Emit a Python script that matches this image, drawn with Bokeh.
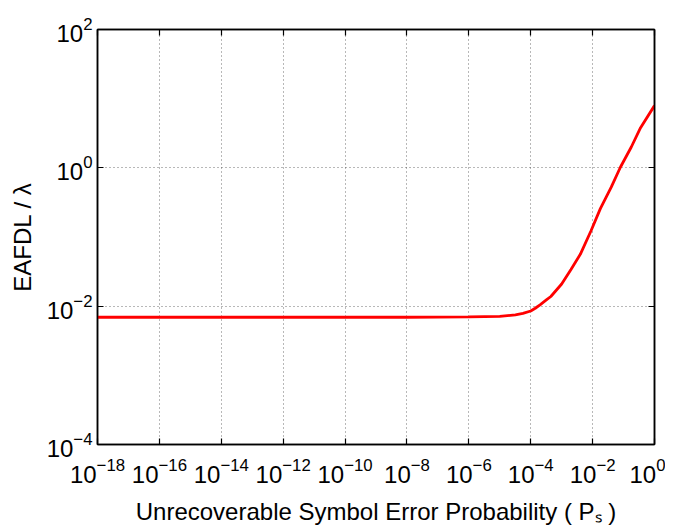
from bokeh.plotting import figure
from bokeh.models import FixedTicker, LogAxis, CustomJSTickFormatter
from bokeh.embed import file_html
from bokeh.resources import INLINE

# ---- data ----
ps = [1e-18, 1e-16, 1e-14, 1e-12, 1e-10, 1e-8, 1e-6, 1e-5, 3.2e-5, 5.6e-5, 1e-4, 1.4e-4,
      2e-4, 3.2e-4, 4.47e-4, 1e-3, 2e-3, 4e-3, 8.9e-3, 1.78e-2, 4e-2, 7.9e-2, 0.178, 0.355, 1.0]
eafdl = [0.00692, 0.00692, 0.00692, 0.00692, 0.00692, 0.00692, 0.00698, 0.00712, 0.00750, 0.00785,
         0.00851, 0.00933, 0.01047, 0.0123, 0.0138, 0.0209, 0.0339, 0.0562, 0.123, 0.257, 0.525,
         1.02, 2.0, 3.8, 7.94]

x_ticks = [1e-18, 1e-16, 1e-14, 1e-12, 1e-10, 1e-8, 1e-6, 1e-4, 1e-2, 1.0]
y_ticks = [1e-4, 1e-2, 1.0, 1e2]

x_label = "Unrecoverable Symbol Error Probability ( P\u209b )"
y_label = "EAFDL / \u03bb"

FONT = "Liberation Sans"

p = figure(width=665, height=527, x_axis_type="log", y_axis_type="log",
           x_range=(1e-18, 1.0), y_range=(1e-4, 1e2),
           output_backend="svg", toolbar_location=None,
           min_border_left=97, min_border_right=11, min_border_top=29, min_border_bottom=82)
p.background_fill_color = "white"
p.border_fill_color = "white"
p.outline_line_color = "black"
p.outline_line_width = 1.5

xt = FixedTicker(ticks=x_ticks, minor_ticks=[])
yt = FixedTicker(ticks=y_ticks, minor_ticks=[])

def style_axis(ax, ticker):
    ax.ticker = ticker
    ax.major_tick_in = 6
    ax.major_tick_out = 0
    ax.minor_tick_in = 0
    ax.minor_tick_out = 0
    ax.axis_line_color = "black"
    ax.axis_line_width = 1.5
    ax.major_tick_line_color = "black"
    ax.major_tick_line_width = 1.2
    ax.major_label_text_font = FONT
    ax.major_label_text_font_size = "24px"
    ax.major_label_text_color = "black"
    ax.axis_label_text_font = FONT
    ax.axis_label_text_font_size = "24px"
    ax.axis_label_text_font_style = "normal"
    ax.axis_label_text_color = "black"

xa = p.xaxis[0]
style_axis(xa, xt)
xa.major_label_standoff = 13
xa.axis_label = x_label
xa.axis_label_standoff = 12

ya = p.yaxis[0]
style_axis(ya, yt)
ya.major_label_standoff = 5
ya.axis_label = y_label
ya.axis_label_standoff = 8

def blank_axis(ticker):
    ax = LogAxis()
    style_axis(ax, ticker)
    ax.formatter = CustomJSTickFormatter(code="return ''")
    ax.major_label_text_font_size = "8px"
    ax.major_label_standoff = 0
    return ax

p.add_layout(blank_axis(xt), "above")
p.add_layout(blank_axis(yt), "right")

p.xgrid.ticker = xt
p.ygrid.ticker = yt
for g in (p.xgrid[0], p.ygrid[0]):
    g.grid_line_color = "#333333"
    g.grid_line_alpha = 0.7
    g.grid_line_width = 1
    g.grid_line_dash = "1 3"

p.line(ps, eafdl, line_color="#ff0000", line_width=2.8)

open("out.html", "w").write(file_html(p, INLINE))
